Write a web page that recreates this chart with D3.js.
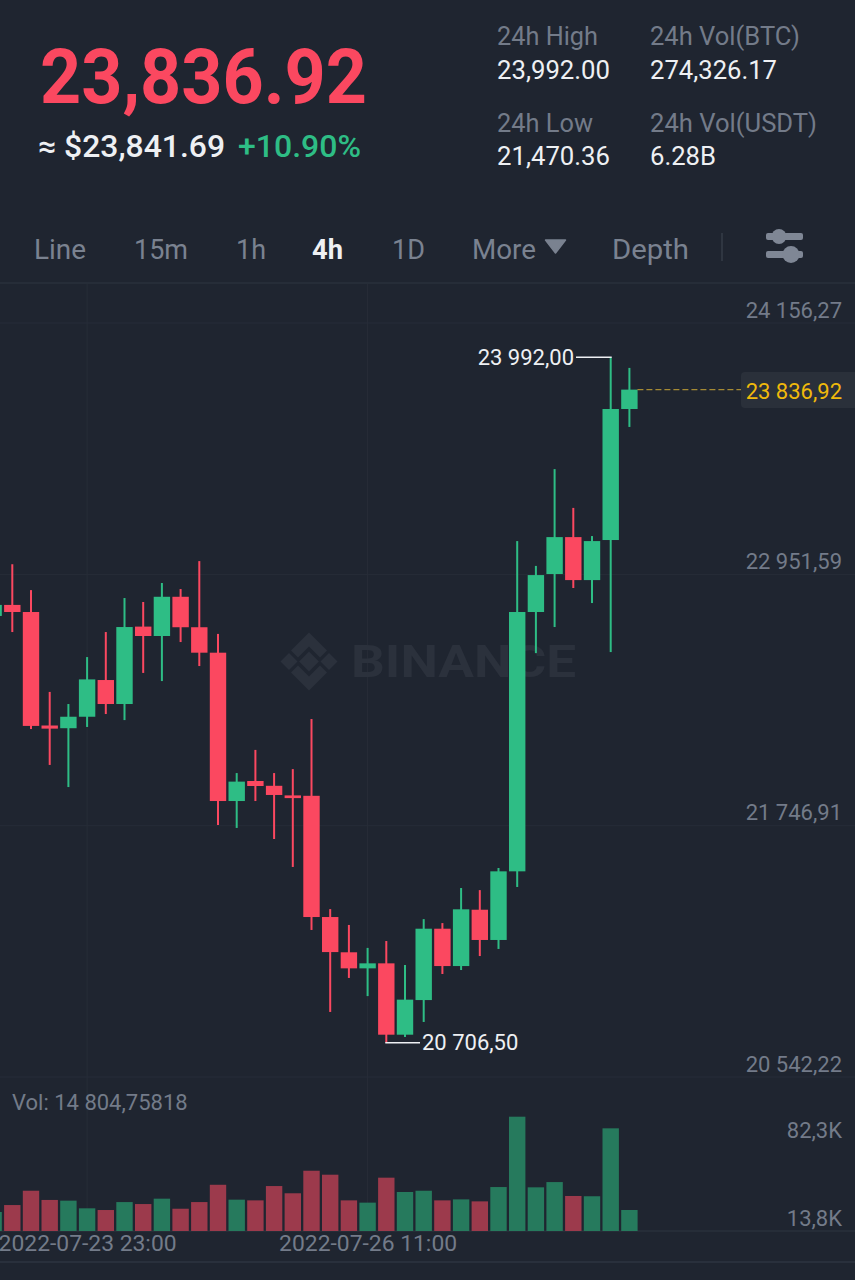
<!DOCTYPE html>
<html><head><meta charset="utf-8">
<script src="https://cdn.jsdelivr.net/npm/d3@7"></script>
<style>html,body{margin:0;padding:0;background:#1f2530}svg{display:block}text{font-family:Roboto,sans-serif}</style>
</head><body><svg id="c" width="855" height="1280"></svg>
<script>
// ---- chart data, oldest candle first ----
const opens  = [22752,22805,22771,22227,22214,22269,22445,22330,22701,22656,22844,22698,22576,21865,21961,21938,21892,21890,21309,21140,21063,21087,20745,20911,21253,21074,21344,21199,21528,22771,22953,23130,22924,23116,23744];
const closes = [22805,22771,22225,22212,22269,22448,22330,22699,22656,22844,22698,22576,21865,21958,21937,21894,21879,21309,21141,21063,21087,20745,20913,21253,21074,21346,21199,21528,22771,22948,23130,22924,23111,23744,23836.92];
const highs  = [22838,23000,22876,22388,22330,22555,22675,22838,22819,22910,22881,23015,22666,21999,22110,21999,22018,22258,21347,21271,21161,21194,21079,21299,21280,21448,21438,21544,23111,22992,23456,23270,23135,23992,23941];
const lows   = [22680,22675,22210,22038,21932,22220,22282,22253,22479,22440,22627,22512,21750,21736,21865,21683,21549,21247,20854,21017,20930,20706.5,20734,20806,21036,21055,21122,21156,21453,22574,22699,22886,22814,22579,23658];
const volumes= [13400,18300,28400,21900,21400,16000,14800,20400,19000,22800,15700,20400,32600,22100,21600,31700,26600,42500,39700,21600,20000,37600,27500,28400,21600,22300,20900,31000,80600,30800,34500,24700,24500,72400,14804.76];
const priceTicks = [24156.27,22951.59,21746.91,20542.22];
const volumeTicks = [82300,13800];
const timeTickIndex = [5,20];
const timeTickLabels = ["2022-07-23 23:00","2022-07-26 11:00"];
const lastPrice = 23836.92, highPrice = 23992.00, lowPrice = 20706.50, lastVolume = 14804.75818;
const tabLabels = ["Line","15m","1h","4h","1D","More","Depth"];

// ---- drawing ----
const C = {bg:"#1f2530",grid:"#272d38",sep:"#2a303b",up:"#2ebd85",down:"#fb4860",upV:"#267a5d",downV:"#9c3a4c",
  muted:"#737b89",tab:"#7a8290",white:"#eef0f3",gold:"#f0b90b",mark:"#2b313c"};
const svg = d3.select("#c");
svg.append("rect").attr("width",855).attr("height",1280).attr("fill",C.bg);

const x = d3.scaleLinear().domain([0,34]).range([-6.4,629.4]);
const y = d3.scaleLinear().domain([20542.22,24156.27]).range([1077,323]);
const yV = d3.scaleLinear().domain([0,80600]).range([1231,1116.7]);
const yVL = d3.scaleLinear().domain([13800,82300]).range([1231,1143]);
const bodyW = 16.4, wickW = 2;
const idx = d3.range(opens.length);
const fmt = d3.formatLocale({decimal:",",thousands:" ",grouping:[3],currency:["",""]}).format(",.2f");

function label(t,xp,yp,o={}){
  const e = svg.append("text").attr("x",xp).attr("y",yp).text(t)
    .attr("fill",o.fill||C.white).attr("font-size",o.size||25).attr("font-weight",o.weight||400)
    .attr("text-anchor",o.anchor||"start");
  if(o.width) e.attr("textLength",o.width).attr("lengthAdjust","spacingAndGlyphs");
  return e;
}

// header
label("23,836.92",40,103,{fill:C.down,size:76,weight:700,width:327});
label("≈ $23,841.69",38,157,{size:31,weight:500,width:187});
label("+10.90%",238,157,{fill:C.up,size:31,weight:500,width:123});
label("24h High",497,45,{fill:C.muted,width:101});
label("23,992.00",497,79,{width:113});
label("24h Low",497,132,{fill:C.muted,width:96});
label("21,470.36",497,165,{width:113});
label("24h Vol(BTC)",650,45,{fill:C.muted,width:150});
label("274,326.17",650,79,{width:127});
label("24h Vol(USDT)",650,132,{fill:C.muted,width:167});
label("6.28B",650,165,{width:66});

// tabs
const tabBox = [[34,52],[134,54],[236,30],[312,31],[392,33],[472,64],[612,77]];
tabLabels.forEach((t,i)=>label(t,tabBox[i][0],259,{fill:t==="4h"?C.white:C.tab,size:28,weight:t==="4h"?700:400,width:tabBox[i][1]}));
svg.append("path").attr("d","M545.5 240H565.5L555.5 253Z").attr("fill",C.tab).attr("stroke",C.tab).attr("stroke-width",1.5).attr("stroke-linejoin","round");
svg.append("line").attr("x1",722).attr("x2",722).attr("y1",233).attr("y2",261).attr("stroke","#363c47").attr("stroke-width",1.5);
const ic = svg.append("g").attr("fill","#7f8795");
ic.append("rect").attr("x",766).attr("y",233).attr("width",37).attr("height",7).attr("rx",2);
ic.append("rect").attr("x",766).attr("y",251).attr("width",37).attr("height",7).attr("rx",2);
ic.append("circle").attr("cx",779).attr("cy",236.5).attr("r",7.5);
ic.append("circle").attr("cx",791).attr("cy",254.5).attr("r",8.5);

// frame lines
[[283,C.sep],[1231,C.sep],[1262,"#2e3440"]].forEach(([yy,c])=>svg.append("line").attr("x1",0).attr("x2",855).attr("y1",yy).attr("y2",yy).attr("stroke",c).attr("stroke-width",1.5));

// grid
svg.append("g").selectAll("line").data(priceTicks).join("line")
  .attr("x1",0).attr("x2",855).attr("y1",d=>y(d)).attr("y2",d=>y(d)).attr("stroke",C.grid).attr("stroke-width",1);
svg.append("g").selectAll("line").data(timeTickIndex).join("line")
  .attr("x1",d=>x(d)).attr("x2",d=>x(d)).attr("y1",284).attr("y2",1231).attr("stroke",C.grid).attr("stroke-width",1);

// watermark
const wm = svg.append("g").attr("transform","translate(309,661.5)").attr("fill",C.mark);
[[0,0,7],[-20,0,6],[20,0,6]].forEach(([a,b,s])=>wm.append("rect").attr("x",-s).attr("y",-s).attr("width",2*s).attr("height",2*s).attr("transform",`translate(${a},${b}) rotate(45)`));
wm.append("path").attr("d","M0 -29L18 -11L11 -4L0 -15L-11 -4L-18 -11Z");
wm.append("path").attr("d","M0 29L18 11L11 4L0 15L-11 4L-18 11Z");
label("BINANCE",351,677,{fill:C.mark,size:45,weight:700,width:225});

// candles
const col = i => closes[i]>=opens[i]?C.up:C.down;
svg.append("g").selectAll("rect").data(idx).join("rect")
  .attr("x",i=>x(i)-wickW/2).attr("width",wickW).attr("y",i=>y(highs[i])).attr("height",i=>y(lows[i])-y(highs[i])).attr("fill",col);
svg.append("g").selectAll("rect").data(idx).join("rect")
  .attr("x",i=>x(i)-bodyW/2).attr("width",bodyW)
  .attr("y",i=>y(Math.max(opens[i],closes[i])))
  .attr("height",i=>Math.max(2,Math.abs(y(opens[i])-y(closes[i])))).attr("fill",col);

// volume bars
svg.append("g").selectAll("rect").data(idx).join("rect")
  .attr("x",i=>x(i)-bodyW/2).attr("width",bodyW).attr("y",i=>yV(volumes[i])).attr("height",i=>yV(0)-yV(volumes[i]))
  .attr("fill",i=>closes[i]>=opens[i]?C.upV:C.downV);

// axes
function styleAxis(g,size,fill,anchor,dy){
  g.select(".domain").remove(); g.selectAll(".tick line").remove();
  g.selectAll("text").attr("font-size",size).attr("font-family","Roboto,sans-serif").attr("fill",fill).attr("text-anchor",anchor).attr("dy",dy).attr("x",0).attr("y",0);
}
svg.append("g").attr("transform","translate(842,0)")
  .call(d3.axisLeft(y).tickValues(priceTicks).tickFormat(fmt).tickSize(0))
  .call(g=>styleAxis(g,22,C.muted,"end",-6));
svg.append("g").attr("transform","translate(842,0)")
  .call(d3.axisLeft(yVL).tickValues(volumeTicks).tickFormat(d=>String(d/1000).replace(".",",")+"K").tickSize(0))
  .call(g=>styleAxis(g,22,C.muted,"end",-6));
svg.append("g").attr("transform","translate(0,1251)")
  .call(d3.axisBottom(x).tickValues(timeTickIndex).tickFormat((d,i)=>timeTickLabels[i]).tickSize(0))
  .call(g=>styleAxis(g,22,C.muted,"middle",0))
  .call(g=>g.selectAll("text").attr("textLength",178).attr("lengthAdjust","spacingAndGlyphs"));

label("Vol: "+d3.formatLocale({decimal:",",thousands:" ",grouping:[3],currency:["",""]}).format(",.5f")(lastVolume),12,1110,{fill:C.muted,size:22});

// high / low annotations
const hiI = highs.indexOf(highPrice), loI = lows.indexOf(lowPrice);
svg.append("line").attr("x1",576).attr("x2",x(hiI)+1).attr("y1",y(highPrice)).attr("y2",y(highPrice)).attr("stroke",C.white).attr("stroke-width",1.5);
label(fmt(highPrice),574,364.5,{size:22,anchor:"end"});
svg.append("line").attr("x1",x(loI)-1).attr("x2",420).attr("y1",y(lowPrice)).attr("y2",y(lowPrice)).attr("stroke",C.white).attr("stroke-width",1.5);
label(fmt(lowPrice),422,1050,{size:22});

// last price
svg.append("line").attr("x1",x(34)+8).attr("x2",742).attr("y1",y(lastPrice)).attr("y2",y(lastPrice)).attr("stroke","#a58a34").attr("stroke-width",1.4).attr("stroke-dasharray","6 3");
svg.append("rect").attr("x",741).attr("y",372).attr("width",120).attr("height",36).attr("rx",4).attr("fill","#2a303a");
label(fmt(lastPrice),842,399,{fill:C.gold,size:22,anchor:"end"});
</script></body></html>
